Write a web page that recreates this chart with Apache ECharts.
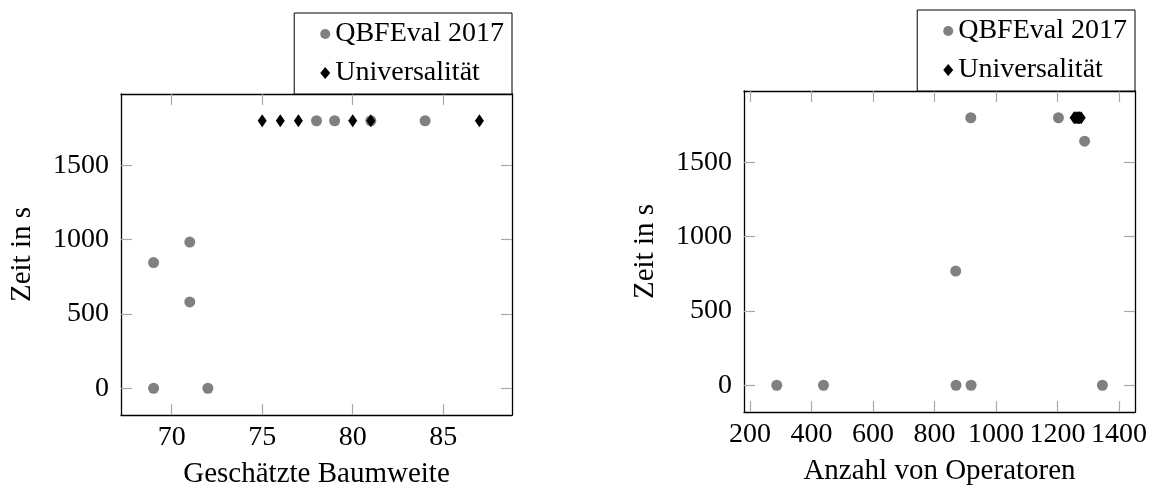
<!DOCTYPE html>
<html>
<head>
<meta charset="utf-8">
<script src="https://cdn.jsdelivr.net/npm/echarts@6/dist/echarts.min.js"></script>
<style>
  html, body { margin: 0; padding: 0; background: #fff; }
  #chart { width: 1156px; height: 486px; }
</style>
</head>
<body>
<div id="chart"></div>
<script>
// Left panel: estimated tree width vs. time
const widthQbf = [[69, 0], [72, 0], [69, 846], [71, 984], [71, 581], [78, 1800], [79, 1800], [81, 1800], [84, 1800]];
const widthUniv = [[75, 1800], [76, 1800], [77, 1800], [80, 1800], [81, 1800], [87, 1800]];

// Right panel: number of operators vs. time
const opsQbf = [[287, 0], [439, 0], [870, 0], [919, 0], [1346, 0], [869, 768], [918, 1800], [1203, 1800], [1288, 1642]];
const opsUniv = [[1254, 1800], [1259, 1800], [1264, 1800], [1268, 1800], [1272, 1800], [1277, 1800]];

const yTicks = [0, 500, 1000, 1500];
const leftXTicks = [70, 75, 80, 85];
const rightXTicks = [200, 400, 600, 800, 1000, 1200, 1400];

const seriesNames = ['QBFEval 2017', 'Universalität'];
const axisTitles = { leftX: 'Geschätzte Baumweite', rightX: 'Anzahl von Operatoren', y: 'Zeit in s' };

const FONT = 'Liberation Serif';
const GRAY = '#808080';

const lineStyle = { show: true, onZero: false, lineStyle: { color: '#000', width: 1.3 } };
const labelStyle = { fontFamily: FONT, fontSize: 28, color: '#000' };
const nameStyle = { fontFamily: FONT, fontSize: 29, color: '#000' };
const plain = v => String(v);

function ticks(values) {
  return { show: true, inside: true, length: 11, customValues: values, lineStyle: { color: '#a8a8a8', width: 1.2 } };
}

// x axis with labels (bottom) or mirrored ticks only (top)
function xAx(grid, min, max, values, name, top) {
  return {
    type: 'value', gridIndex: grid, position: top ? 'top' : 'bottom',
    min, max, splitLine: { show: false },
    axisLine: lineStyle, axisTick: ticks(values),
    axisLabel: top ? { show: false } : Object.assign({ margin: 9, customValues: values, formatter: plain }, labelStyle),
    name: top ? '' : name, nameLocation: 'middle', nameGap: 45,
    nameTextStyle: nameStyle
  };
}
// y axis with labels (left) or mirrored ticks only (right)
function yAx(grid, name, right) {
  return {
    type: 'value', gridIndex: grid, position: right ? 'right' : 'left',
    min: -180, max: 1980, splitLine: { show: false },
    axisLine: lineStyle, axisTick: ticks(yTicks),
    axisLabel: right ? { show: false } : Object.assign({ margin: 12, customValues: yTicks, formatter: plain }, labelStyle),
    name: right ? '' : name, nameLocation: 'middle', nameGap: 84, nameRotate: 90,
    nameTextStyle: nameStyle
  };
}

// x ranges: data span padded by 10% on each side
const leftMin = 67.2, leftMax = 88.8;
const rightMin = 180.5, rightMax = 1452;

function legendBox(rightPx, topPx) {
  return {
    orient: 'vertical', right: rightPx, top: topPx,
    data: [{ name: seriesNames[0], icon: 'circle' }, { name: seriesNames[1], icon: 'diamond' }],
    itemWidth: 10, itemHeight: 12, itemGap: 11,
    padding: [7, 8, 7, 26],
    borderColor: '#000', borderWidth: 1, backgroundColor: '#fff',
    textStyle: labelStyle
  };
}

const chart = echarts.init(document.getElementById('chart'), null, { renderer: 'canvas' });
chart.setOption({
  animation: false,
  backgroundColor: '#fff',
  grid: [
    { left: 121, top: 94, width: 391, height: 321, containLabel: false, outerBoundsMode: 'none' },
    { left: 744, top: 91, width: 391, height: 321, containLabel: false, outerBoundsMode: 'none' }
  ],
  xAxis: [
    xAx(0, leftMin, leftMax, leftXTicks, axisTitles.leftX, false),
    xAx(0, leftMin, leftMax, leftXTicks, '', true),
    xAx(1, rightMin, rightMax, rightXTicks, axisTitles.rightX, false),
    xAx(1, rightMin, rightMax, rightXTicks, '', true)
  ],
  yAxis: [
    yAx(0, axisTitles.y, false),
    yAx(0, '', true),
    yAx(1, axisTitles.y, false),
    yAx(1, '', true)
  ],
  legend: [legendBox(644, 13), legendBox(21, 10)],
  series: [
    { name: seriesNames[0], type: 'scatter', xAxisIndex: 0, yAxisIndex: 0, data: widthQbf,
      symbol: 'circle', symbolSize: 11, itemStyle: { color: GRAY, opacity: 1 } },
    { name: seriesNames[1], type: 'scatter', xAxisIndex: 0, yAxisIndex: 0, data: widthUniv,
      symbol: 'diamond', symbolSize: [9, 13], itemStyle: { color: '#000', opacity: 1 } },
    { name: seriesNames[0], type: 'scatter', xAxisIndex: 2, yAxisIndex: 2, data: opsQbf,
      symbol: 'circle', symbolSize: 11, itemStyle: { color: GRAY, opacity: 1 } },
    { name: seriesNames[1], type: 'scatter', xAxisIndex: 2, yAxisIndex: 2, data: opsUniv,
      symbol: 'diamond', symbolSize: [9, 13], itemStyle: { color: '#000', opacity: 1 } }
  ]
});
</script>
</body>
</html>
